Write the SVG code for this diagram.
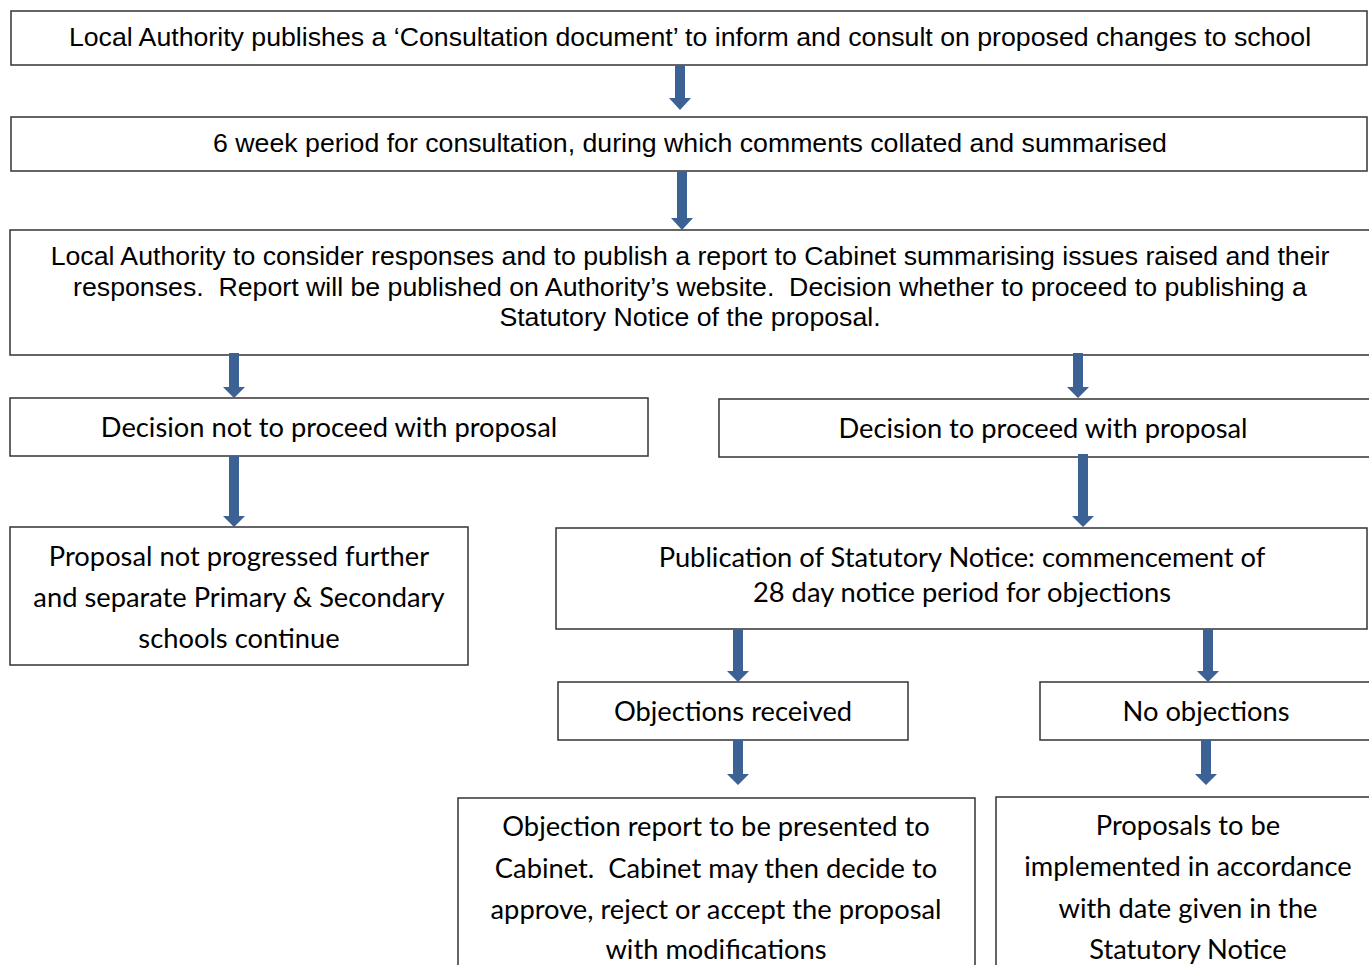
<svg xmlns="http://www.w3.org/2000/svg" width="1369" height="965" viewBox="0 0 1369 965">
<style>
.box{fill:#fff;stroke:#333;stroke-width:1.5}
.a{font-family:"Liberation Sans",Arial,sans-serif;font-size:26.7px;fill:#000;text-anchor:middle;dominant-baseline:central;white-space:pre}
.c{font-family:Lato,"Noto Sans",sans-serif;font-size:27.3px;fill:#000;text-anchor:middle;dominant-baseline:central;white-space:pre}
.arr{fill:#3c6194}
</style>
<rect width="1369" height="965" fill="#fff"/>
<g id="n1"><rect class="box" x="11" y="11" width="1356" height="54"/><text class="a" x="690" y="37">Local Authority publishes a ‘Consultation document’ to inform and consult on proposed changes to school</text></g>
<g id="n2"><rect class="box" x="11" y="117" width="1356" height="54"/><text class="a" x="690" y="143">6 week period for consultation, during which comments collated and summarised</text></g>
<g id="n3"><rect class="box" x="10" y="230" width="1362" height="125"/><text class="a" x="690" y="256">Local Authority to consider responses and to publish a report to Cabinet summarising issues raised and their</text><text class="a" x="690" y="287">responses.  Report will be published on Authority’s website.  Decision whether to proceed to publishing a</text><text class="a" x="690" y="317">Statutory Notice of the proposal.</text></g>
<g id="n4"><rect class="box" x="10" y="398" width="638" height="58"/><text class="c" x="329" y="426">Decision not to proceed with proposal</text></g>
<g id="n5"><rect class="box" x="719" y="399" width="652" height="58"/><text class="c" x="1043" y="427">Decision to proceed with proposal</text></g>
<g id="n6"><rect class="box" x="10" y="527" width="458" height="138"/><text class="c" x="239" y="555">Proposal not progressed further</text><text class="c" x="239" y="596">and separate Primary &amp; Secondary</text><text class="c" x="239" y="637">schools continue</text></g>
<g id="n7"><rect class="box" x="556" y="528" width="811" height="101"/><text class="c" x="962" y="556">Publication of Statutory Notice: commencement of</text><text class="c" x="962" y="591">28 day notice period for objections</text></g>
<g id="n8"><rect class="box" x="558" y="682" width="350" height="58"/><text class="c" x="733" y="710">Objections received</text></g>
<g id="n9"><rect class="box" x="1040" y="682" width="332" height="58"/><text class="c" x="1206" y="710">No objections</text></g>
<g id="n10"><rect class="box" x="458" y="798" width="517" height="180"/><text class="c" x="716" y="825">Objection report to be presented to</text><text class="c" x="716" y="867">Cabinet.  Cabinet may then decide to</text><text class="c" x="716" y="908">approve, reject or accept the proposal</text><text class="c" x="716" y="948">with modifications</text></g>
<g id="n11"><rect class="box" x="996" y="797" width="380" height="180"/><text class="c" x="1188" y="824">Proposals to be</text><text class="c" x="1188" y="865">implemented in accordance</text><text class="c" x="1188" y="907">with date given in the</text><text class="c" x="1188" y="948">Statutory Notice</text></g>
<g id="connectors" class="arr">
<polygon points="675,65 685,65 685,98 691,98 680,110 669,98 675,98"/>
<polygon points="677,171 687,171 687,218 693,218 682,230 671,218 677,218"/>
<polygon points="229,353 239,353 239,387 245,387 234,398 223,387 229,387"/>
<polygon points="1073,353 1083,353 1083,387 1089,387 1078,398 1067,387 1073,387"/>
<polygon points="229,456 239,456 239,516 245,516 234,527 223,516 229,516"/>
<polygon points="1078,454 1088,454 1088,516 1094,516 1083,527 1072,516 1078,516"/>
<polygon points="733,629 743,629 743,671 749,671 738,682 727,671 733,671"/>
<polygon points="1203,629 1213,629 1213,671 1219,671 1208,682 1197,671 1203,671"/>
<polygon points="733,740 743,740 743,774 749,774 738,785 727,774 733,774"/>
<polygon points="1201,740 1211,740 1211,774 1217,774 1206,785 1195,774 1201,774"/>
</g>
</svg>
